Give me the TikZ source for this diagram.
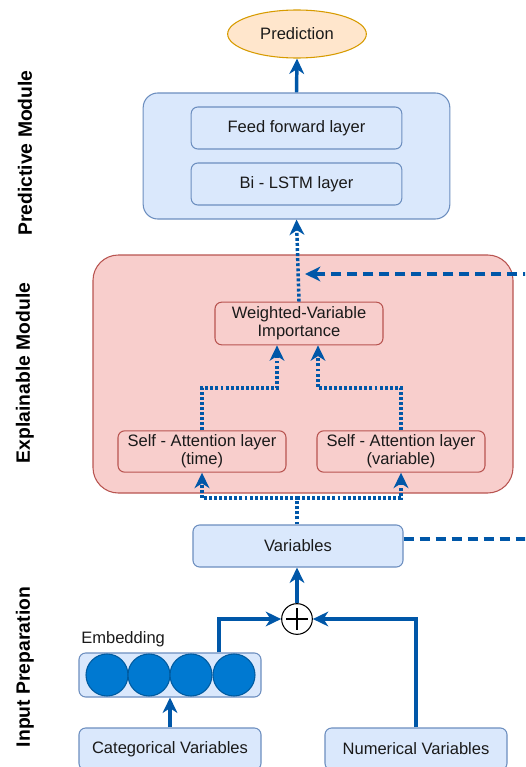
\documentclass[tikz,border=0pt]{standalone}
\usepackage{fontspec}
\setmainfont{Liberation Sans}
\usetikzlibrary{arrows.meta,calc,shapes.geometric}
\definecolor{bfill}{HTML}{DAE8FC}
\definecolor{bline}{HTML}{6C8EBF}
\definecolor{rfill}{HTML}{F8CECC}
\definecolor{rline}{HTML}{B85450}
\definecolor{ofill}{HTML}{FFE6CC}
\definecolor{oline}{HTML}{D79B00}
\definecolor{arr}{HTML}{0057A8}
\definecolor{embfill}{HTML}{0079D1}
\definecolor{embline}{HTML}{005BA0}
\definecolor{txt}{HTML}{1A1A1A}
\tikzset{
  bluebox/.style={draw=bline, fill=bfill, line width=0.8pt, rounded corners=5pt, font=\fontsize{12.4}{14}\selectfont, text=txt, inner sep=0pt, align=center},
  redbox/.style={draw=rline, fill=rfill, line width=0.8pt, rounded corners=5pt, font=\fontsize{12.4}{14}\selectfont, text=txt, inner sep=0pt, align=center},
  modlabel/.style={rotate=90, font=\fontsize{14.5}{16}\selectfont\bfseries, text=black},
  conn/.style={draw=arr, line width=2.6pt, -{Stealth[length=11.5pt,width=11pt,inset=3.5pt]}},
  dotconn/.style={conn, dash pattern=on 2.2pt off 1.6pt},
  dashconn/.style={conn, dash pattern=on 7.5pt off 4.5pt},
  embc/.style={circle, draw=embline, fill=embfill, line width=0.8pt, minimum size=31.5pt, inner sep=0pt},
}
\begin{document}
\begin{tikzpicture}[x=0.75pt,y=-0.75pt]
\useasboundingbox (0,0) rectangle (525,767);
\clip (0,0) rectangle (525,767);
% module labels
\node[modlabel] (lpm) at (25,153) {Predictive Module};
\node[modlabel] (lem) at (25,373) {Explainable Module};
\node[modlabel] (lip) at (25,667) {Input Preparation};
% prediction
\node[ellipse, draw=oline, fill=ofill, line width=0.8pt, minimum width=104pt, minimum height=36pt, inner sep=0pt, font=\fontsize{12.4}{14}\selectfont, text=txt] (pred) at (297,34) {Prediction};
% predictive module
\node[bluebox, rounded corners=11pt, minimum width=230pt, minimum height=94.5pt] (pm) at (296.5,156) {};
\node[bluebox, minimum width=158pt, minimum height=31.5pt] (ff) at (296.5,128) {Feed forward layer};
\node[bluebox, minimum width=158pt, minimum height=31.5pt] (bl) at (296.5,184) {Bi - LSTM layer};
% explainable module
\node[redbox, rounded corners=19pt, minimum width=315pt, minimum height=178.5pt] (em) at (303,374) {};
\node[redbox, minimum width=126pt, minimum height=32pt, font=\fontsize{12.4}{13.5}\selectfont] (wvi) at (299,323.5) {Weighted-Variable\\Importance};
\node[redbox, minimum width=126pt, minimum height=31pt, font=\fontsize{12.4}{13.5}\selectfont] (sat) at (202,451.5) {Self - Attention layer\\(time)};
\node[redbox, minimum width=126pt, minimum height=31pt, font=\fontsize{12.4}{13.5}\selectfont] (sav) at (401,451.5) {Self - Attention layer\\(variable)};
% input preparation
\node[bluebox, minimum width=157.5pt, minimum height=31.5pt] (var) at (298,546) {Variables};
\node[circle, draw=black, fill=white, line width=0.8pt, minimum size=23pt, inner sep=0pt] (plus) at (297,619) {};
\draw[line width=0.8pt] ($(plus.center)+(-11,0)$) -- ($(plus.center)+(11,0)$);
\draw[line width=0.8pt] ($(plus.center)+(0,-11)$) -- ($(plus.center)+(0,11)$);
\node[font=\fontsize{12.4}{14}\selectfont, text=txt, anchor=west, inner sep=0pt] (embl) at (81,639) {Embedding};
\node[bluebox, minimum width=136.5pt, minimum height=33pt] (emb) at (170,675) {};
\node[embc] (c1) at (107,675) {};
\node[embc] (c2) at (149,675) {};
\node[embc] (c3) at (191,675) {};
\node[embc] (c4) at (234,675) {};
\node[bluebox, minimum width=136.5pt, minimum height=31.5pt] (cat) at (170,749) {Categorical Variables};
\node[bluebox, minimum width=136.5pt, minimum height=31.5pt] (num) at (416,749) {Numerical Variables};
\coordinate (split) at (297,498);
\coordinate (wl) at (277,388);
\coordinate (wr) at (318,388);
\coordinate (fb1) at (560,539);
\coordinate (fb2) at (560,274);
\coordinate (fbend) at (305,274);
% connectors
\draw[conn] (pm.north) -- (pred.south);
\draw[dotconn] (wvi.north) -- (pm.south);
\draw[dotconn] (sat.north) |- (wl) -- (wl |- wvi.south);
\draw[dotconn] (sav.north) |- (wr) -- (wr |- wvi.south);
\draw[dotconn] (var.north -| split) -- (split) -| (sat.south);
\draw[dotconn] (split) -| (sav.south);
\draw[dashconn] (var.east |- fb1) -- (fb1) -- (fb2) -- (fbend);
\draw[conn] (plus.north) -- (var.south -| plus);
\draw[conn] (cat.north) -- (emb.south);
\draw[conn] (emb.north -| 219,0) |- (plus.west);
\draw[conn] (num.north) |- (plus.east);
\end{tikzpicture}
\end{document}
